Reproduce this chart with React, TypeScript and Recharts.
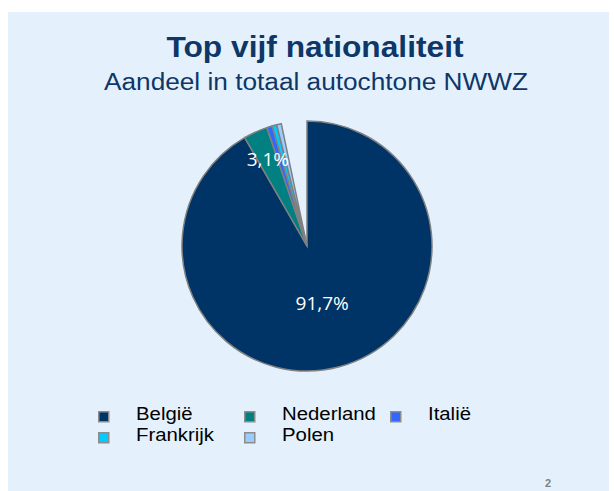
import React from "react";
import { PieChart, Pie, Cell, Legend } from "recharts";

const categories = ["België", "Nederland", "Italië", "Frankrijk", "Polen"];
const shares = [91.7, 3.1, 0.7, 0.6, 0.6];
const restLabel = "Overige";
const restShare = 3.3;
const colors = ["#003366", "#008080", "#3366FF", "#00CCFF", "#99CCFF"];
const labelledCount = 2;

const title = "Top vijf nationaliteit";
const subtitle = "Aandeel in totaal autochtone NWWZ";
const pageNumber = "2";

const data = [
  ...categories.map((name, i) => ({ name, value: shares[i], hidden: false })),
  { name: restLabel, value: restShare, hidden: true },
];

const RAD = Math.PI / 180;
const NAVY = "#0E3768";

const renderLabel = (props: any) => {
  const { cx, cy, midAngle, outerRadius, index, value } = props;
  if (index >= labelledCount) return null;
  const r = outerRadius * (index === 0 ? 0.47 : 0.76);
  const x = cx + r * Math.cos(-midAngle * RAD);
  const y = cy + r * Math.sin(-midAngle * RAD);
  return (
    <text
      x={x}
      y={y}
      fill="#FFFFFF"
      textAnchor="middle"
      dominantBaseline="central"
      fontFamily="'Open Sans', sans-serif"
      fontSize={19}
    >
      {value.toFixed(1).replace(".", ",") + "%"}
    </text>
  );
};

const legendCols = [98, 244, 390];
const legendRows = [411, 432];

const renderLegend = () => (
  <svg width={614} height={60} style={{ display: "block" }}>
    {categories.map((name, i) => {
      const col = i % 3;
      const row = Math.floor(i / 3);
      const x = legendCols[col];
      const y = legendRows[row] - 400;
      return (
        <g key={name}>
          <rect
            x={x + 0.75}
            y={y + 0.75}
            width={10}
            height={10}
            fill={colors[i]}
            stroke="#8C8C8C"
            strokeWidth={1.5}
          />
          <g transform={`translate(${x + 38}, ${y + 9}) scale(1.1, 1)`}>
            <text
              x={0}
              y={0}
              fill="#000000"
              fontFamily="'Liberation Sans', Arial, sans-serif"
              fontSize={18.5}
            >
              {name}
            </text>
          </g>
        </g>
      );
    })}
  </svg>
);

export default function App() {
  return (
    <div
      style={{
        position: "absolute",
        left: 0,
        top: 0,
        width: 614,
        height: 491,
        background: "#FFFFFF",
        overflow: "hidden",
      }}
    >
      <div
        style={{
          position: "absolute",
          left: 8,
          top: 12,
          width: 601,
          height: 479,
          background: "#E4F1FD",
        }}
      />
      <svg
        width={614}
        height={491}
        style={{ position: "absolute", left: 0, top: 0 }}
      >
        <text
          x={315}
          y={57}
          textAnchor="middle"
          fill={NAVY}
          fontFamily="'Liberation Sans', Arial, sans-serif"
          fontWeight="bold"
          fontSize={29}
          textLength={297}
          lengthAdjust="spacingAndGlyphs"
        >
          {title}
        </text>
        <text
          x={316}
          y={90}
          textAnchor="middle"
          fill={NAVY}
          fontFamily="'Liberation Sans', Arial, sans-serif"
          fontSize={23.3}
          textLength={424}
          lengthAdjust="spacingAndGlyphs"
        >
          {subtitle}
        </text>
        <text
          x={545}
          y={487}
          fill="#7F7F7F"
          fontFamily="'Liberation Sans', Arial, sans-serif"
          fontWeight="bold"
          fontSize={11}
        >
          {pageNumber}
        </text>
      </svg>
      <div style={{ position: "absolute", left: 0, top: 0 }}>
        <PieChart
          width={614}
          height={491}
          margin={{ top: 0, right: 0, bottom: 0, left: 0 }}
        >
          <Pie
            data={data}
            dataKey="value"
            nameKey="name"
            cx={307}
            cy={246}
            outerRadius={125}
            startAngle={90}
            endAngle={-270}
            label={renderLabel}
            labelLine={false}
            isAnimationActive={false}
          >
            {data.map((d, i) => (
              <Cell
                key={d.name}
                fill={d.hidden ? "none" : colors[i]}
                stroke={d.hidden ? "none" : "#808080"}
                strokeWidth={d.hidden ? 0 : 1.5}
              />
            ))}
          </Pie>
          <Legend
            content={renderLegend}
            wrapperStyle={{ position: "absolute", left: 0, top: 400, width: 614 }}
          />
        </PieChart>
      </div>
    </div>
  );
}
